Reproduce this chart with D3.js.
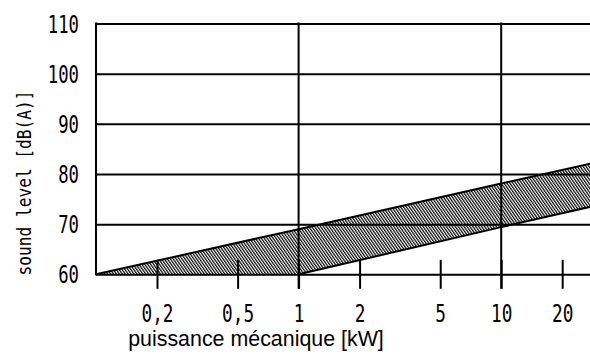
<!DOCTYPE html>
<html>
<head>
<meta charset="utf-8">
<script src="https://cdn.jsdelivr.net/npm/d3@7"></script>
<style>
  html, body { margin: 0; padding: 0; background: #fff; }
  svg { display: block; }
</style>
</head>
<body>
<svg id="chart" width="590" height="358"></svg>
<script>
// Mechanical power (kW) ticks and their labels
const powerTicks = [0.2, 0.5, 1, 2, 5, 10, 20];
const powerTickLabels = ["0,2", "0,5", "1", "2", "5", "10", "20"];
const powerGrid = [1, 10];

// Sound level ticks (dB(A))
const levelTicks = [60, 70, 80, 90, 100, 110];

// Upper and lower edges of the sound level band
const upperPower = [0.1, 1, 10, 30];
const upperLevel = [60, 69, 78.1, 82.4];
const lowerPower = [0.1, 1, 10, 30];
const lowerLevel = [60, 60, 69.4, 73.8];

const svg = d3.select("#chart");
const plotLeft = 96, plotTop = 23.5, plotBottom = 274.3;
const decade = 202.6;

const x = d3.scaleLog().domain([0.1, 30]).range([plotLeft, plotLeft + decade * Math.log10(300)]);
const y = d3.scaleLinear().domain([60, 110]).range([plotBottom, plotTop]);

// Hatch pattern for the band
const defs = svg.append("defs");
const pat = defs.append("pattern")
  .attr("id", "hatch")
  .attr("patternUnits", "userSpaceOnUse")
  .attr("width", 2.4).attr("height", 10)
  .attr("patternTransform", "rotate(-35)");
pat.append("rect").attr("width", 2.4).attr("height", 10).attr("fill", "#fff");
pat.append("line").attr("x1", 0.6).attr("x2", 0.6).attr("y1", 0).attr("y2", 10)
  .attr("stroke", "#000").attr("stroke-width", 1.2);

const upper = upperPower.map((p, i) => [p, upperLevel[i]]);
const lower = lowerPower.map((p, i) => [p, lowerLevel[i]]);
const poly = upper.concat(lower.slice().reverse());

const line = d3.line().x(d => x(d[0])).y(d => y(d[1]));

svg.append("path")
  .attr("d", line(poly) + "Z")
  .attr("fill", "url(#hatch)")
  .attr("stroke", "none");

// Y axis with horizontal grid lines
const yAxis = d3.axisLeft(y)
  .tickValues(levelTicks)
  .tickSize(-(x.range()[1] - plotLeft))
  .tickPadding(0);
const gy = svg.append("g").attr("transform", `translate(${plotLeft},0)`).call(yAxis);
gy.select(".domain").remove();
gy.selectAll(".tick line").attr("stroke", "#000").attr("stroke-width", 2);
gy.selectAll(".tick text")
  .attr("font-family", "DejaVu Sans Mono")
  .attr("font-size", 24)
  .attr("fill", "#000")
  .attr("text-anchor", "end")
  .attr("dy", "0.36em")
  .attr("x", -17 / 0.72)
  .attr("transform", "scale(0.72,1)");

// Left frame line
svg.append("line")
  .attr("x1", plotLeft).attr("x2", plotLeft)
  .attr("y1", plotTop - 1).attr("y2", plotBottom + 1)
  .attr("stroke", "#000").attr("stroke-width", 2);

// X axis: short ticks crossing the base line
const xAxis = d3.axisBottom(x)
  .tickValues(powerTicks)
  .tickFormat((d, i) => powerTickLabels[i])
  .tickSize(29)
  .tickPadding(16);
const gx = svg.append("g").attr("transform", `translate(0,${plotBottom - 14.5})`).call(xAxis);
gx.select(".domain").remove();
gx.selectAll(".tick line").attr("stroke", "#000").attr("stroke-width", 2);
gx.selectAll(".tick text")
  .attr("font-family", "DejaVu Sans Mono")
  .attr("font-size", 24)
  .attr("fill", "#000")
  .attr("transform", "scale(0.74,1)")
  .attr("x", 0);

// Vertical grid lines at 1 and 10 kW
svg.append("g").selectAll("line")
  .data(powerGrid)
  .join("line")
  .attr("x1", d => x(d)).attr("x2", d => x(d))
  .attr("y1", plotTop - 1).attr("y2", plotBottom + 14.5)
  .attr("stroke", "#000").attr("stroke-width", 2);

// Band edges
svg.append("path").attr("d", line(upper)).attr("fill", "none")
  .attr("stroke", "#000").attr("stroke-width", 2);
svg.append("path").attr("d", line(lower.slice(1))).attr("fill", "none")
  .attr("stroke", "#000").attr("stroke-width", 2);

// Axis titles
svg.append("text")
  .attr("transform", "translate(31,183) rotate(-90) scale(0.81,1)")
  .attr("text-anchor", "middle")
  .attr("font-family", "DejaVu Sans Mono")
  .attr("font-size", 20)
  .attr("fill", "#000")
  .text("sound level [dB(A)]");

svg.append("text")
  .attr("x", 256).attr("y", 346)
  .attr("text-anchor", "middle")
  .attr("font-family", "Liberation Sans, Arial, sans-serif")
  .attr("font-size", 21.4)
  .attr("fill", "#000")
  .text("puissance mécanique [kW]");
</script>
</body>
</html>
